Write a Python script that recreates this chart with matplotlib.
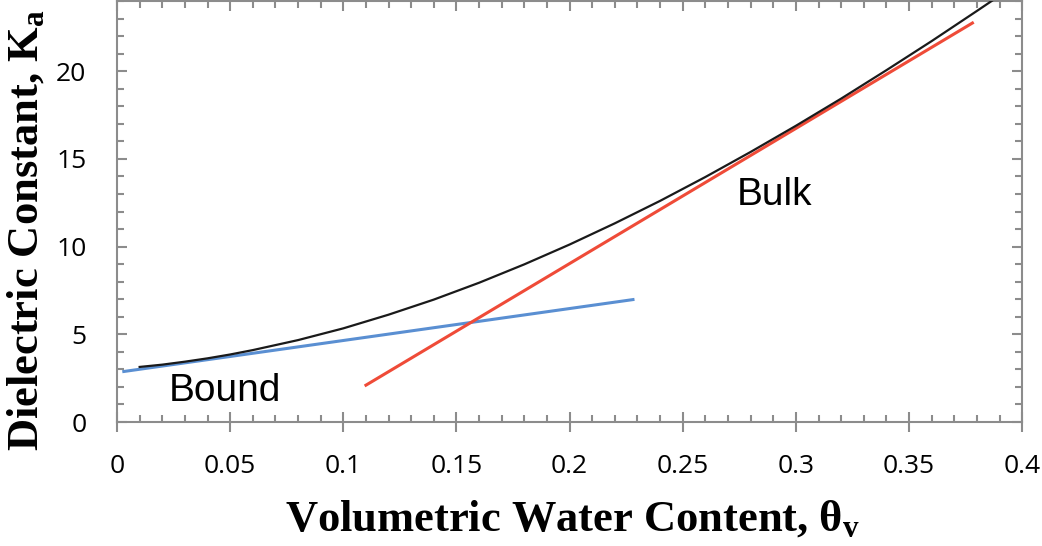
import numpy as np
import matplotlib.pyplot as plt
from matplotlib.ticker import MultipleLocator

plt.rcParams['mathtext.fontset'] = 'custom'
plt.rcParams['mathtext.rm'] = 'Liberation Serif'
plt.rcParams['mathtext.bf'] = 'Liberation Serif:bold'
plt.rcParams['mathtext.it'] = 'Liberation Serif:italic'

# measured dielectric curve
theta = [0.01, 0.02, 0.03, 0.04, 0.05, 0.06, 0.08, 0.10, 0.12, 0.14, 0.16, 0.18,
         0.20, 0.22, 0.24, 0.26, 0.28, 0.30, 0.32, 0.34, 0.36, 0.38, 0.39]
ka = [3.14, 3.27, 3.44, 3.63, 3.85, 4.10, 4.67, 5.34, 6.12, 6.98, 7.94, 8.99,
      10.12, 11.33, 12.61, 13.97, 15.40, 16.89, 18.44, 20.06, 21.72, 23.44, 24.31]

# tangent lines for bound and bulk water
bound_x = [0.003, 0.228]
bound_y = [2.88, 6.98]
bulk_x = [0.110, 0.378]
bulk_y = [2.1, 22.75]

x_ticks = [0, 0.05, 0.1, 0.15, 0.2, 0.25, 0.3, 0.35, 0.4]
x_labels = ['0', '0.05', '0.1', '0.15', '0.2', '0.25', '0.3', '0.35', '0.4']
y_ticks = [0, 5, 10, 15, 20]

fig = plt.figure(figsize=(10.42, 5.46), dpi=100)
ax = fig.add_axes([0.1123, 0.2271, 0.8687, 0.7709])

ax.plot(theta, ka, color='#1a1a1a', lw=1.6, zorder=3)
ax.plot(bound_x, bound_y, color='#5a8fd2', lw=2.2, zorder=2)
ax.plot(bulk_x, bulk_y, color='#ef4b38', lw=2.2, zorder=2)

ax.text(0.0228, 1.20, 'Bound', fontsize=28, family='Liberation Sans', ha='left', va='baseline')
ax.text(0.2738, 12.36, 'Bulk', fontsize=28, family='Liberation Sans', ha='left', va='baseline')

ax.set_xlim(0, 0.4)
ax.set_ylim(0, 24)
ax.set_xticks(x_ticks)
ax.set_xticklabels(x_labels)
ax.set_yticks(y_ticks)
ax.xaxis.set_minor_locator(MultipleLocator(0.01))
ax.yaxis.set_minor_locator(MultipleLocator(1))

gray = '#8c8c8c'
for s in ax.spines.values():
    s.set_color(gray)
    s.set_linewidth(1.5)

ax.tick_params(axis='x', which='major', direction='inout', length=14, width=1.5,
               color=gray, top=True, labelsize=19, pad=16)
ax.tick_params(axis='x', which='minor', direction='in', length=5, width=1.5,
               color=gray, top=True)
ax.tick_params(axis='y', which='major', direction='in', length=7, width=1.5,
               color=gray, right=True, labelsize=19, pad=22)
ax.tick_params(axis='y', which='minor', direction='in', length=5, width=1.5,
               color=gray, right=True)
for lbl in ax.get_xticklabels() + ax.get_yticklabels():
    lbl.set_family('Open Sans')

# axis titles placed in figure coordinates
fig.text(572 / 1042, 1 - 519 / 546, r'Volumetric Water Content, $\mathbf{\theta_v}$',
         fontsize=32, family='Liberation Serif', fontweight='bold',
         ha='center', va='center')
fig.text(26 / 1042, 1 - 230 / 546, r'Dielectric Constant, $\mathbf{K_a}$',
         fontsize=32, family='Liberation Serif', fontweight='bold',
         ha='center', va='center', rotation=90)

fig.savefig('out.png', dpi=100)
